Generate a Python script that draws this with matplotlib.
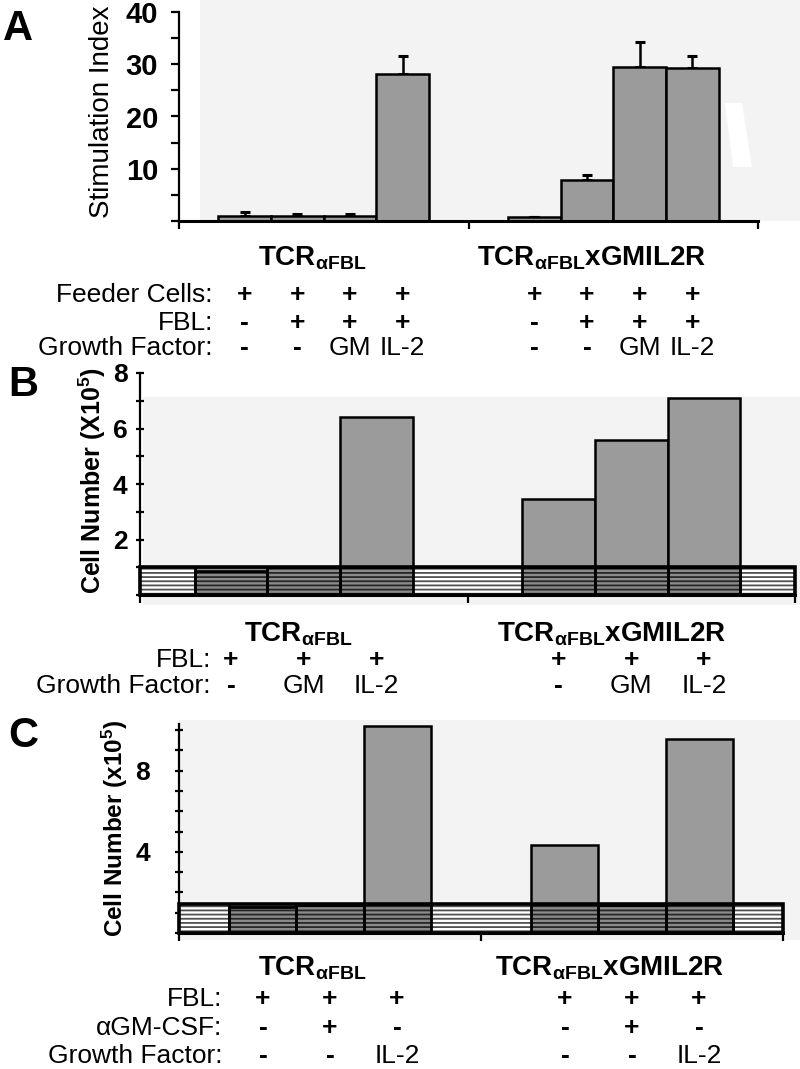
import matplotlib
matplotlib.use("Agg")
import matplotlib.pyplot as plt
import matplotlib.transforms as mtransforms
import numpy as np
from matplotlib.patches import Rectangle, Polygon

plt.rcParams['font.family'] = ['Liberation Sans', 'DejaVu Sans']
plt.rcParams['mathtext.fontset'] = 'custom'
plt.rcParams['mathtext.rm'] = 'Liberation Sans:bold'
plt.rcParams['mathtext.it'] = 'Liberation Sans:bold'
plt.rcParams['mathtext.bf'] = 'Liberation Sans:bold'
plt.rcParams['hatch.linewidth'] = 1.3

# ---- data ----
groups = [r"TCR$_{\alpha\mathrm{FBL}}$", r"TCR$_{\alpha\mathrm{FBL}}$xGMIL2R"]

# panel A: stimulation index (mean, upper error)
a_index = [1.0, 1.0, 1.0, 28.2, 0.8, 7.8, 29.4, 29.2]
a_err = [0.8, 0.3, 0.3, 3.3, 0.0, 1.0, 4.8, 2.4]
a_feeder = ['+', '+', '+', '+', '+', '+', '+', '+']
a_fbl = ['-', '+', '+', '+', '-', '+', '+', '+']
a_growth = ['-', '-', 'GM', 'IL-2', '-', '-', 'GM', 'IL-2']

# panel B: cell number (x10^5)
b_cells = [0.85, 1.0, 6.4, 3.45, 5.6, 7.1]
b_band = 1.0
b_fbl = ['+', '+', '+', '+', '+', '+']
b_growth = ['-', 'GM', 'IL-2', '-', 'GM', 'IL-2']

# panel C: cell number (x10^5)
c_cells = [1.3, 1.4, 10.2, 4.35, 1.4, 9.55]
c_band = 1.45
c_fbl = ['+', '+', '+', '+', '+', '+']
c_agm = ['-', '+', '-', '-', '+', '-']
c_growth = ['-', '-', 'IL-2', '-', '-', 'IL-2']

W, H = 800, 1069
BAR = '#9b9b9b'
ROW_FS = 19


def fx(x):
    return x / W


def fy(y):
    return 1 - y / H


def positions(n):
    # two groups of n bars, 0.75 margin on each side of a group
    gw = n + 1.5
    first = 1.25 + np.arange(n)
    return np.concatenate([first, first + gw]), 2 * gw


def style(ax, total):
    for s in ['top', 'right']:
        ax.spines[s].set_visible(False)
    ax.spines['left'].set_linewidth(1.6)
    ax.spines['bottom'].set_linewidth(2.2)
    ax.set_facecolor('none')
    ax.set_xlim(0, total)
    ax.set_xticks([0, total / 2, total], ['', '', ''])
    ax.tick_params(axis='x', direction='out', length=6, width=1.6)


def draw_band(ax, xs, vals, top, total):
    ax.bar(total / 2, top, width=total, color='white', edgecolor='#505050',
           hatch='----', linewidth=0, zorder=3)
    dark = np.minimum(vals, top)
    ax.bar(xs, dark, width=1, color='#8a8a8a', edgecolor='#262626',
           hatch='----', linewidth=0, zorder=4)
    ax.bar(xs, dark, width=1, fill=False, edgecolor='black', linewidth=2, zorder=5)
    for edge in [0.75, total - 0.75]:
        ax.axvline(edge, 0, top / ax.get_ylim()[1], color='black', lw=2, zorder=5)
    ax.add_patch(Rectangle((0, 0), total, top, fill=False, edgecolor='black',
                           lw=2.6, zorder=6, clip_on=False))


def table(ax, xs, rows, label_right, header_y, header_x):
    trans = mtransforms.blended_transform_factory(ax.transData, fig.transFigure)
    for hx, g in zip(header_x, groups):
        fig.text(fx(hx), fy(header_y), g, ha='center', va='baseline',
                 fontsize=20, fontweight='bold')
    for label, vals, y in rows:
        fig.text(fx(label_right), fy(y), label, ha='right', va='baseline', fontsize=ROW_FS)
        for x, v in zip(xs, vals):
            ax.text(x, fy(y), v, transform=trans, ha='center', va='baseline',
                    fontsize=ROW_FS, fontweight='bold' if v in '+-' else 'normal',
                    clip_on=False)


fig = plt.figure(figsize=(8, 10.69), dpi=100)

# faint scan background
for (x0, y0, x1, y1) in [(200, 0, 800, 221), (143, 397, 800, 605), (179, 720, 800, 940)]:
    fig.add_artist(Rectangle((fx(x0), fy(y1)), fx(x1) - fx(x0), fy(y0) - fy(y1),
                             transform=fig.transFigure, color='#f3f3f3', zorder=0, lw=0))
fig.add_artist(Polygon([(fx(725), fy(103)), (fx(742), fy(103)), (fx(752), fy(167)), (fx(733), fy(167))],
                       closed=True, transform=fig.transFigure, color='white', zorder=0, lw=0))

# ---- panel A ----
axA = fig.add_axes([fx(179), fy(221), fx(758) - fx(179), (221 - 12) / H])
xa, ta = positions(4)
style(axA, ta)
axA.set_ylim(0, 40)
axA.bar(xa, a_index, width=1, color=BAR, edgecolor='black', linewidth=1.8, zorder=2)
axA.errorbar(xa, a_index, yerr=[np.zeros(len(a_err)), a_err], fmt='none', ecolor='black',
             elinewidth=1.8, capsize=3.5, capthick=2.2, zorder=1)
axA.set_yticks([0, 10, 20, 30, 40], ['', '10', '20', '30', '40'])
axA.set_yticks([5, 15, 25, 35], minor=True)
axA.tick_params(axis='y', which='both', direction='out', length=6, width=1.6, pad=9)
for t in axA.get_yticklabels():
    t.set_fontsize(21)
    t.set_fontweight('bold')
fig.text(fx(102), fy(112), 'Stimulation Index', rotation=90, ha='center', va='center', fontsize=20)
fig.text(fx(18), fy(29), 'A', ha='center', va='center', fontsize=30, fontweight='bold')
table(axA, xa, [('Feeder Cells:', a_feeder, 302), ('FBL:', a_fbl, 330),
                ('Growth Factor:', a_growth, 355)], 213, 265, [312, 592])

# ---- panel B ----
axB = fig.add_axes([fx(140), fy(595), fx(795) - fx(140), (595 - 373) / H])
xb, tb = positions(3)
style(axB, tb)
axB.set_ylim(0, 8)
axB.bar(xb, b_cells, width=1, color=BAR, edgecolor='black', linewidth=1.8, zorder=2)
draw_band(axB, xb, b_cells, b_band, tb)
axB.set_yticks(range(0, 9), ['', '', '2', '', '4', '', '6', '', '8'])
axB.tick_params(axis='y', direction='inout', length=6, width=1.6, pad=6)
for t in axB.get_yticklabels():
    t.set_fontsize(19)
    t.set_fontweight('bold')
fig.text(fx(92), fy(481), r'Cell Number (X10$^5$)', rotation=90, ha='center', va='center',
         fontsize=18, fontweight='bold')
fig.text(fx(23), fy(385), 'B', ha='center', va='center', fontsize=30, fontweight='bold')
table(axB, xb, [('FBL:', b_fbl, 667), ('Growth Factor:', b_growth, 693)],
      211, 642, [298, 612])

# ---- panel C ----
axC = fig.add_axes([fx(179), fy(933), fx(783) - fx(179), (933 - 724) / H])
xc, tc = positions(3)
style(axC, tc)
axC.set_ylim(0, 10.3)
axC.bar(xc, c_cells, width=1, color=BAR, edgecolor='black', linewidth=1.8, zorder=2)
draw_band(axC, xc, c_cells, c_band, tc)
axC.set_yticks(range(0, 11), ['', '', '', '', '4', '', '', '', '8', '', ''])
axC.tick_params(axis='y', direction='inout', length=6, width=1.6, pad=18)
for t in axC.get_yticklabels():
    t.set_fontsize(19)
    t.set_fontweight('bold')
fig.text(fx(115), fy(828), r'Cell Number (x10$^5$)', rotation=90, ha='center', va='center',
         fontsize=17.5, fontweight='bold')
fig.text(fx(23), fy(736), 'C', ha='center', va='center', fontsize=30, fontweight='bold')
table(axC, xc, [('FBL:', c_fbl, 1006), ('\u03b1GM-CSF:', c_agm, 1035),
                ('Growth Factor:', c_growth, 1063)], 222, 975, [312, 610])

fig.savefig('out.png', dpi=100)
